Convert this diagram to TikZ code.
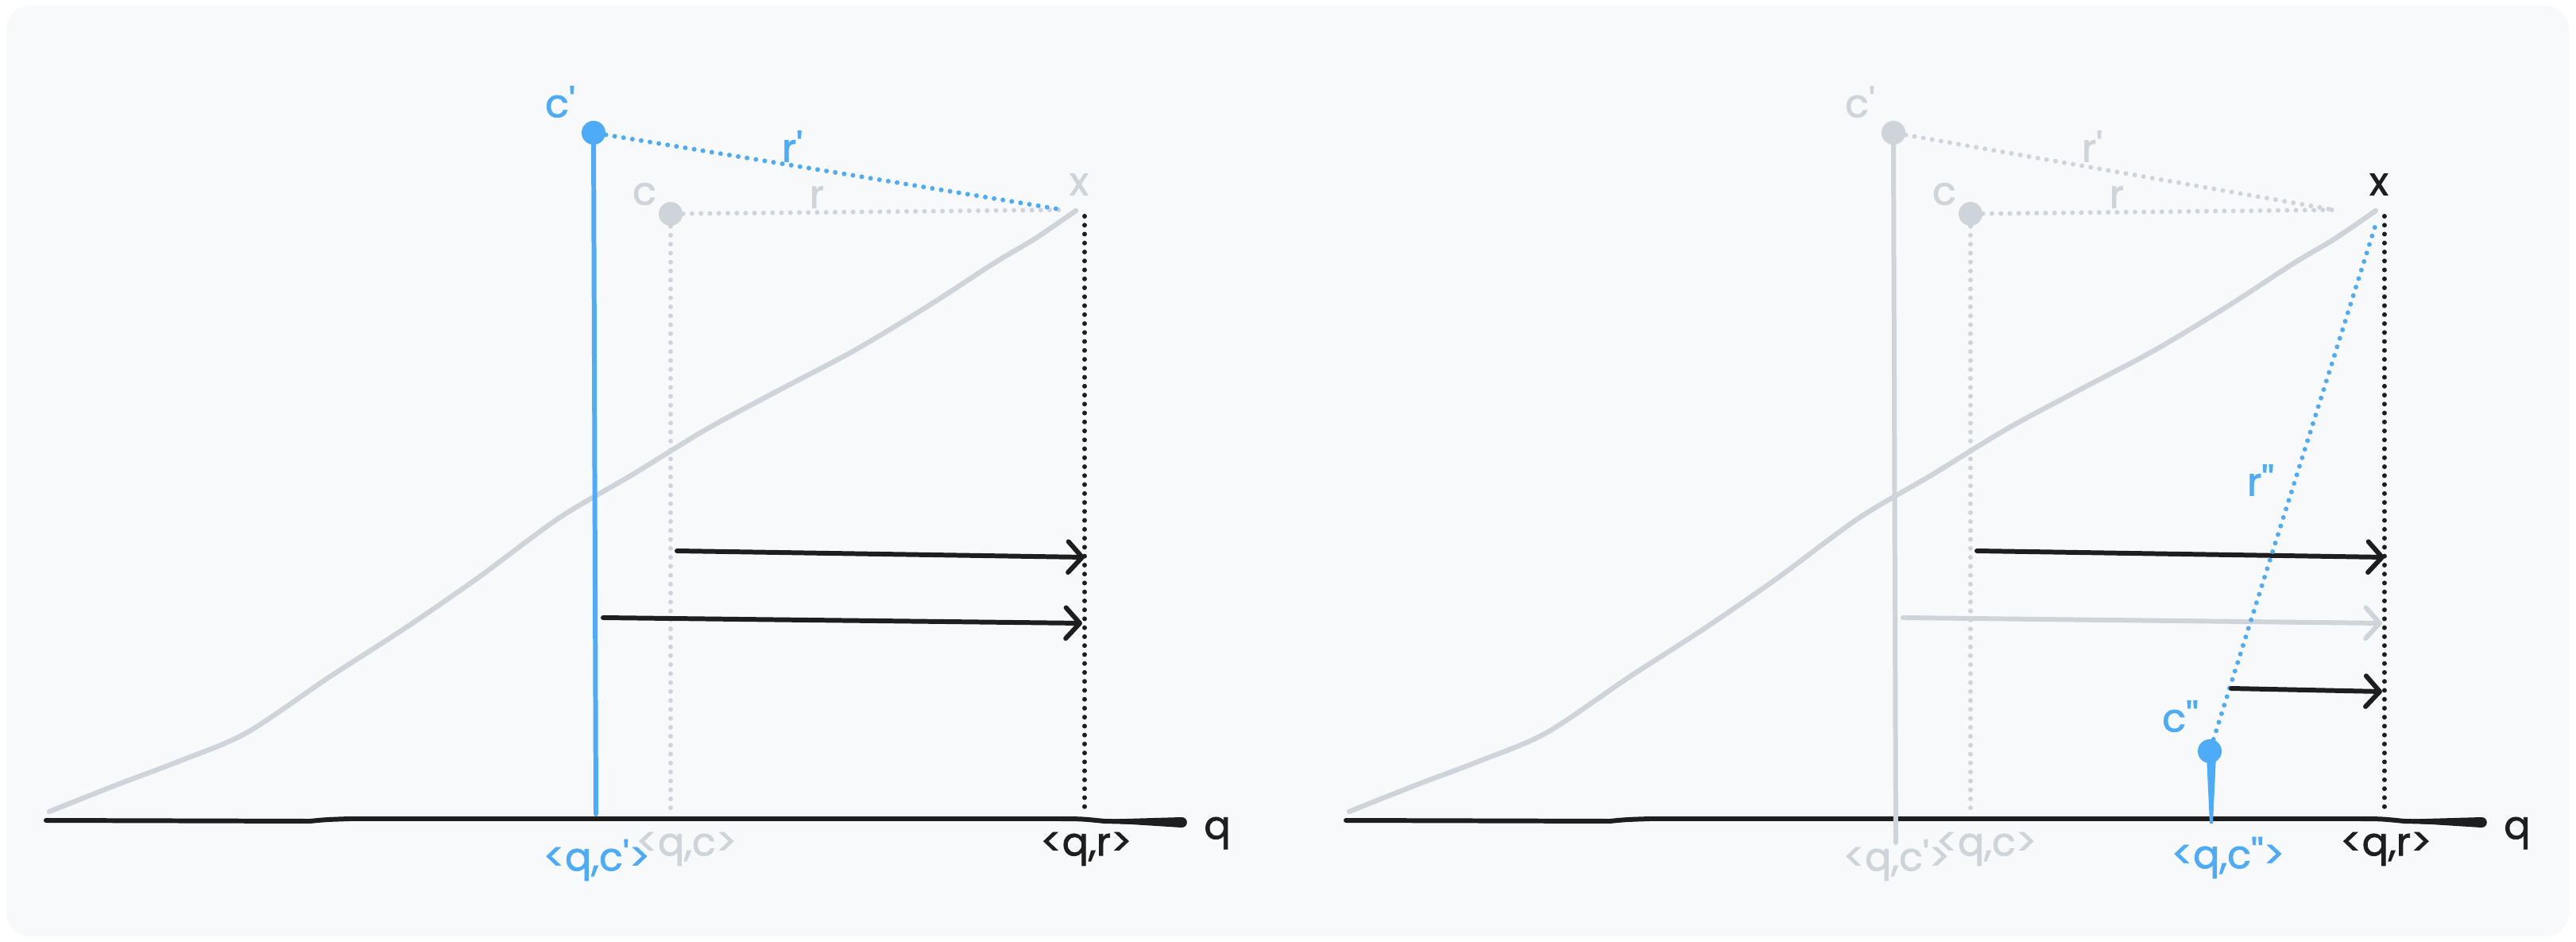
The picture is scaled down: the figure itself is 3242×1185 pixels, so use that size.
\documentclass[tikz,border=0pt]{standalone}
\usepackage{fontspec}
\setmainfont{Poppins}
\newfontfamily\hand{Poppins}[FakeBold=1.6]
\usetikzlibrary{arrows.meta}
\definecolor{skyblue}{HTML}{4DABF7}
\definecolor{paleline}{HTML}{CED4DA}
\definecolor{ink}{HTML}{1E1E1E}
\definecolor{paper}{HTML}{F8F9FA}
\begin{document}
\begin{tikzpicture}[x=0.01cm, y=-0.01cm,
    lbl/.style={font=\hand\fontsize{14}{16}\selectfont, inner sep=0pt},
    dots/.style={line width=1.7pt, dash pattern=on 0pt off 3.2pt, line cap=round},
    ray/.style={line width=1.7pt, line cap=round, -{Straight Barb[length=5pt,width=11pt,round]}},
    stem/.style={line width=1.7pt, line cap=round},
    axis/.style={ink, line width=1.7pt, line cap=round},
    curve/.style={paleline, line width=1.8pt, line cap=round, line join=round},
    dot/.style={circle, fill, minimum size=0.3cm, inner sep=0pt}]
\useasboundingbox (0,0) rectangle (3242,1185);
\fill[white] (0,0) rectangle (3242,1185);
\fill[paper, rounded corners=0.3cm] (8,7) rectangle (3233,1178);

\foreach \dx/\i/\hi/\mk/\ar/\sb/\tp in {0cm/L/skyblue/paleline/ink/1024/1338, 16.35cm/R/paleline/ink/paleline/1060/1301}
{
\begin{scope}[xshift=\dx]
\draw[curve] plot[smooth] coordinates {(62,1021) (145,988) (227,957) (310,922) (414,852) (507,792) (600,728) (703,652) (796,597) (889,540) (982,490) (1075,441) (1168,385) (1251,331) (1303,300) (1354,265)};
\coordinate (o\i) at (58,1032);
\coordinate (e\i) at (1430,1034);
\draw[axis] (o\i) -- (390,1033) .. controls (410,1031) .. (440,1030) -- (1330,1030) .. controls (1360,1030) .. (1390,1033) -- (e\i);
\fill[ink] (1400,1030.5) -- (1487,1028) to[out=0,in=0,looseness=1.8] (1487,1041) -- (1400,1035.5) -- cycle;
\node[lbl, ink] (q\i) at (1532,1048) {q};
\node[lbl, \mk] (x\i) at (1358,232) {x};
\coordinate (t\i) at (\tp,264);
\coordinate (xb\i) at (1365,272);
\coordinate (xa\i) at (1365,1024);
\draw[dots, ink] (xb\i) -- (xa\i);
\node[dot, paleline] (c\i) at (844,269) {};
\node[lbl, paleline] (cl\i) at (811,244) {c};
\draw[dots, paleline] (c\i) -- (t\i);
\draw[dots, paleline] (c\i) -- (c\i |- xa\i);
\node[lbl, paleline] (r\i) at (1028,248) {r};
\node[dot, \hi] (cp\i) at (747,167) {};
\node[lbl, \hi] (cpl\i) at (705,128) {c\textquotesingle};
\coordinate (s\i) at (750,\sb);
\draw[stem, \hi] (cp\i) -- (s\i);
\draw[dots, \hi] (cp\i) -- (t\i);
\node[lbl, \hi] (rp\i) at (997,184) {r\textquotesingle};
\coordinate (a1\i) at (852,693);
\coordinate (b1\i) at (1365,701);
\coordinate (a2\i) at (759,777);
\coordinate (b2\i) at (1362,784);
\draw[ray, ink] (a1\i) -- (b1\i);
\draw[ray, \ar] (a2\i) -- (b2\i);
\node[lbl, \hi] (qcp\i) at (751,1082) {<q,c\textquotesingle>};
\node[lbl, paleline] (qc\i) at (864,1068) {<q,c>};
\node[lbl, ink] (qr\i) at (1367,1068) {<q,r>};
\end{scope}
}

\coordinate (hR) at (2990,282);
\node[dot, skyblue] (cpp) at (2781,945) {};
\node[lbl, skyblue] (cppl) at (2744,901) {c\textquotesingle\textquotesingle};
\draw[dots, skyblue] (cpp) -- (hR);
\node[lbl, skyblue] (rpp) at (2845,604) {r\textquotesingle\textquotesingle};
\fill[skyblue] (2777,950) -- (2789,950) -- (2785,1036) -- (2781,1036) -- cycle;
\coordinate (a3) at (2808,866);
\coordinate (b3) at (2998,870);
\draw[ray, ink] (a3) -- (b3);
\node[lbl, skyblue] (qcpp) at (2804,1079) {<q,c\textquotesingle\textquotesingle>};
\end{tikzpicture}
\end{document}
